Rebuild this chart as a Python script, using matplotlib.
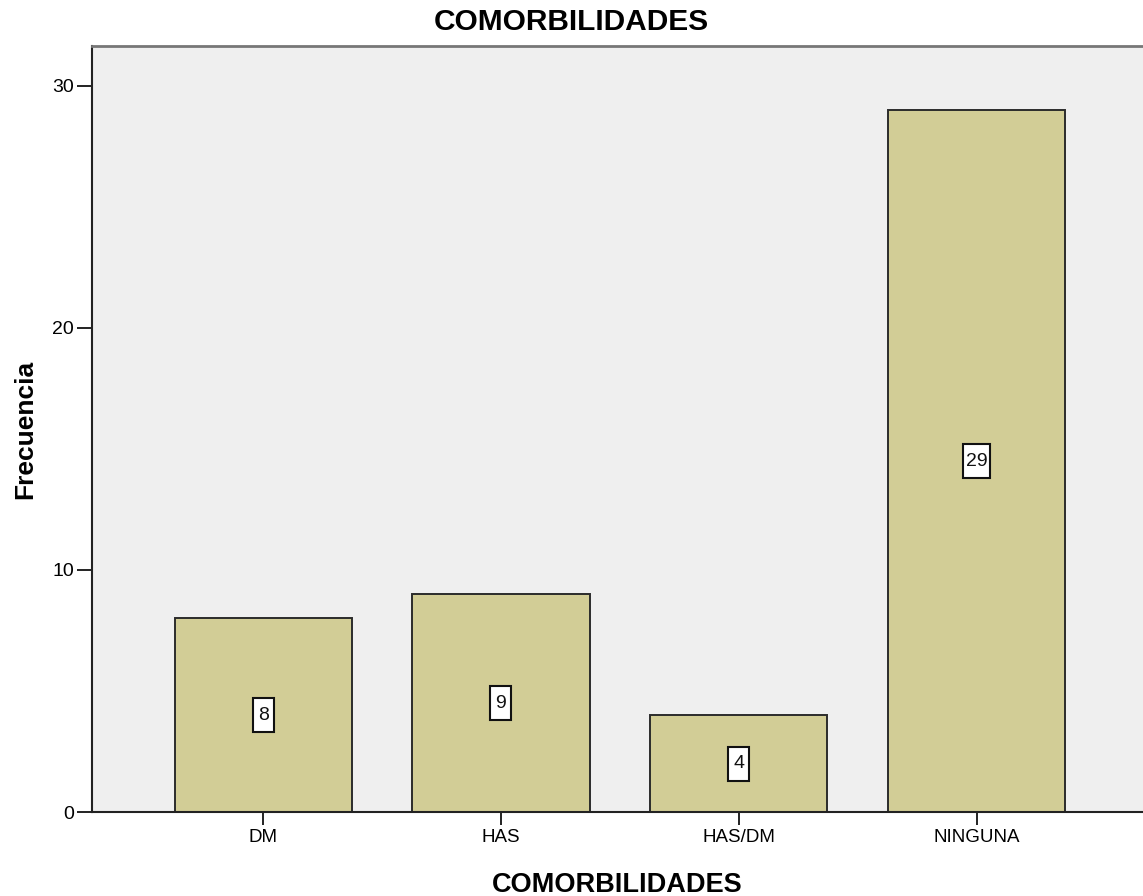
import matplotlib
matplotlib.use("Agg")
import matplotlib.pyplot as plt
from matplotlib.patches import Rectangle
from matplotlib.transforms import ScaledTranslation
import numpy as np

categories = ["DM", "HAS", "HAS/DM", "NINGUNA"]
frecuencias = [8, 9, 4, 29]
y_ticks = [0, 10, 20, 30]

plt.rcParams["font.family"] = ["Liberation Sans", "DejaVu Sans"]

fig = plt.figure(figsize=(11.43, 8.96), dpi=100)
ax = fig.add_axes([92 / 1143, 84 / 896, 1.0 - 92 / 1143, (812 - 46) / 896])
ax.set_facecolor("#EFEFEF")

x = np.arange(len(categories))
ax.bar(x, frecuencias, width=0.745, color="#D2CD96",
       edgecolor="#2b2b2b", linewidth=1.4, zorder=2)

# value labels in tall white boxes at the middle of each bar
for xi, v in zip(x, frecuencias):
    label = str(v)
    w_in = (15 + 6 * len(label)) / 100
    h_in = 34 / 100
    trans = fig.dpi_scale_trans + ScaledTranslation(xi, v / 2, ax.transData)
    ax.add_patch(Rectangle((-w_in / 2, -h_in / 2), w_in, h_in, transform=trans,
                           facecolor="white", edgecolor="#111111",
                           linewidth=1.5, zorder=3))
    ax.text(xi, v / 2, label, ha="center", va="center", fontsize=14,
            color="#111111", zorder=4)

ax.set_xlim(-0.72, 3.70)
ax.set_ylim(0, 31.65)
ax.set_xticks(x)
ax.set_xticklabels(categories, fontsize=13.5)
ax.set_yticks(y_ticks)
ax.set_yticklabels([str(t) for t in y_ticks], fontsize=14)
ax.tick_params(axis="y", direction="out", length=11, width=1.4, pad=2, color="#222222")
ax.tick_params(axis="x", direction="out", length=9, width=1.4, pad=3, color="#222222")

for side in ["left", "bottom"]:
    ax.spines[side].set_color("#222222")
    ax.spines[side].set_linewidth(1.5)
ax.spines["top"].set_color("#777777")
ax.spines["top"].set_linewidth(2.0)
ax.spines["right"].set_visible(False)

ax.set_xlabel("COMORBILIDADES", fontsize=19.5, fontweight="bold", labelpad=19)
ax.set_ylabel("Frecuencia", fontsize=19, fontweight="bold", labelpad=11)
fig.text(571.5 / 1143, 1 - 22 / 896, "COMORBILIDADES", ha="center", va="center",
         fontsize=21.5, fontweight="bold")

fig.savefig("out.png", dpi=100)
